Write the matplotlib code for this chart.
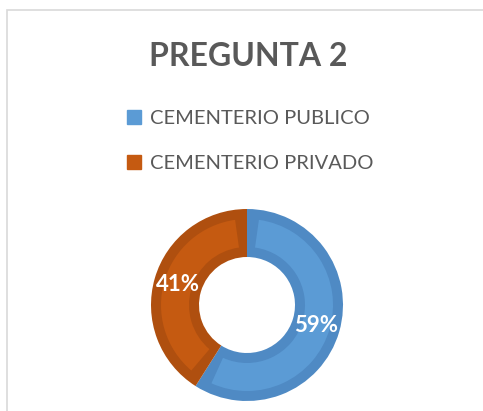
import matplotlib
matplotlib.use('Agg')
import matplotlib.pyplot as plt
import numpy as np
from matplotlib.patches import Rectangle, Patch

labels = ['CEMENTERIO PUBLICO', 'CEMENTERIO PRIVADO']
values = [59, 41]
face_colors = ['#5B9BD5', '#C55A11']
edge_colors = ['#4F8AC4', '#AF4F0F']
title = 'PREGUNTA 2'

W, H = 483, 411
plt.rcParams['font.family'] = ['Lato', 'DejaVu Sans']

fig = plt.figure(figsize=(W / 100, H / 100), dpi=100)
fig.patch.set_facecolor('white')

# chart frame (only top and left edges visible)
fig.add_artist(Rectangle((7 / W, -0.2), 1.2, (H - 10) / H + 0.2,
                         transform=fig.transFigure, fill=False,
                         edgecolor='#D9D9D9', linewidth=1.2))

# donut: darker ring underneath, lighter inset ring on top
cx, cy, r = 247, 305, 96
band = 10.0 / r          # width of the darker inner border, in radius units
ring = 0.5
ax = fig.add_axes([(cx - r) / W, (H - cy - r) / H, 2 * r / W, 2 * r / H])
wedges, texts, autotexts = ax.pie(values, colors=edge_colors, startangle=90,
                                  counterclock=False, radius=1,
                                  autopct='%.0f%%', pctdistance=0.75,
                                  wedgeprops=dict(width=ring, linewidth=0))
inner, _ = ax.pie(values, colors=face_colors, startangle=90,
                  counterclock=False, radius=1 - band,
                  wedgeprops=dict(width=ring - 2 * band, linewidth=0))
shrink = np.degrees(band / (1 - ring / 2))
for w in inner:
    w.set_theta1(w.theta1 + shrink)
    w.set_theta2(w.theta2 - shrink)
for t in autotexts:
    t.set_color('white')
    t.set_fontsize(16)
    t.set_fontweight('bold')
    t.set_zorder(5)
ax.set_xlim(-1, 1)
ax.set_ylim(-1, 1)
ax.set_aspect('equal')
ax.axis('off')

fig.text(248 / W, 1 - 56 / H, title, ha='center', va='center',
         fontsize=23, fontweight='bold', color='#595959')

handles = [Patch(facecolor=c, edgecolor=c) for c in face_colors]
leg = fig.legend(handles, labels, loc='center', bbox_to_anchor=(250 / W, 1 - 141 / H),
                 frameon=False, fontsize=14.5, labelspacing=1.35,
                 handlelength=0.7, handleheight=0.7, handletextpad=0.45)
for t in leg.get_texts():
    t.set_color('#595959')

fig.savefig('out.png', dpi=100)
